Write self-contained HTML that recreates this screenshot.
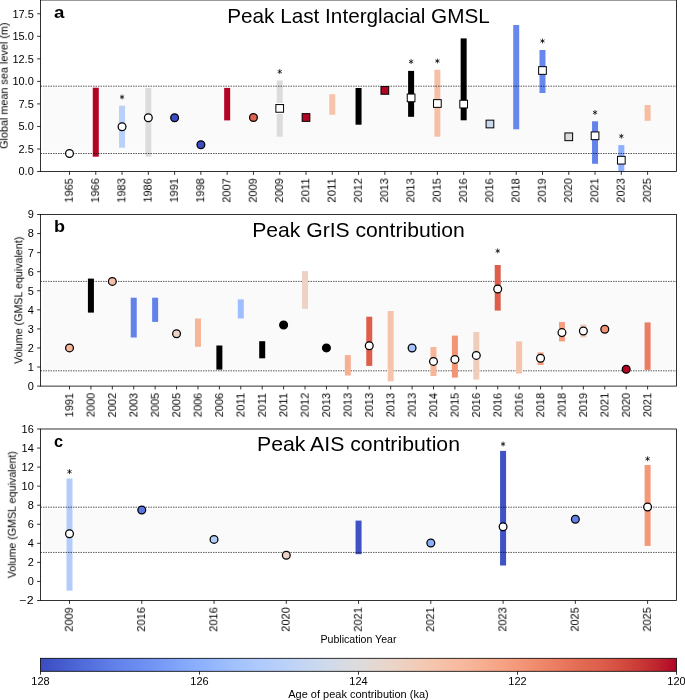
<!DOCTYPE html>
<html><head><meta charset="utf-8"><title>Peak Last Interglacial GMSL</title>
<style>html,body{margin:0;padding:0;background:#fff;}svg{display:block;font-family:"Liberation Sans",sans-serif;}text{will-change:transform;}</style>
</head><body>
<svg width="685" height="700" viewBox="0 0 685 700">
<rect width="685" height="700" fill="#fff"/>
<defs><linearGradient id="cw" x1="0" x2="1" y1="0" y2="0"><stop offset="0" stop-color="#3b4cc0"/><stop offset="0.03" stop-color="#445acc"/><stop offset="0.06" stop-color="#4e68d8"/><stop offset="0.09" stop-color="#5875e1"/><stop offset="0.12" stop-color="#6282ea"/><stop offset="0.16" stop-color="#6c8ff1"/><stop offset="0.19" stop-color="#779af7"/><stop offset="0.22" stop-color="#82a6fb"/><stop offset="0.25" stop-color="#8db0fe"/><stop offset="0.28" stop-color="#98b9ff"/><stop offset="0.31" stop-color="#a3c2fe"/><stop offset="0.34" stop-color="#aec9fc"/><stop offset="0.38" stop-color="#b9d0f9"/><stop offset="0.41" stop-color="#c3d5f4"/><stop offset="0.44" stop-color="#ccd9ed"/><stop offset="0.47" stop-color="#d5dbe5"/><stop offset="0.5" stop-color="#dddcdc"/><stop offset="0.53" stop-color="#e5d8d1"/><stop offset="0.56" stop-color="#ecd3c5"/><stop offset="0.59" stop-color="#f1ccb8"/><stop offset="0.62" stop-color="#f5c4ac"/><stop offset="0.66" stop-color="#f7ba9f"/><stop offset="0.69" stop-color="#f7b093"/><stop offset="0.72" stop-color="#f6a586"/><stop offset="0.75" stop-color="#f4987a"/><stop offset="0.78" stop-color="#f08b6e"/><stop offset="0.81" stop-color="#eb7d62"/><stop offset="0.84" stop-color="#e46e56"/><stop offset="0.88" stop-color="#dd5f4b"/><stop offset="0.91" stop-color="#d44e41"/><stop offset="0.94" stop-color="#ca3b37"/><stop offset="0.97" stop-color="#be242e"/><stop offset="1" stop-color="#b40426"/></linearGradient></defs>
<rect x="42.8" y="86.2" width="631.8" height="67.3" fill="#fafafa"/>
<line x1="40.5" x2="676.5" y1="86.2" y2="86.2" stroke="#fff" stroke-width="3.3"/>
<line x1="40.5" x2="676.5" y1="153.5" y2="153.5" stroke="#fff" stroke-width="3.3"/>
<rect x="92.78" y="87.7" width="6" height="69" fill="#b40426"/>
<rect x="119.05" y="105.7" width="6" height="42" fill="#b9d0f9"/>
<rect x="145.33" y="88" width="6" height="68.7" fill="#dddcdc"/>
<rect x="224.16" y="87.9" width="6" height="32.5" fill="#b40426"/>
<rect x="276.72" y="80.5" width="6" height="56.2" fill="#dddcdc"/>
<rect x="329.27" y="94.2" width="6" height="20.6" fill="#f5c4ac"/>
<rect x="355.55" y="88" width="6" height="36.7" fill="#000000"/>
<rect x="408.1" y="70.9" width="6" height="45.9" fill="#000000"/>
<rect x="434.38" y="69.8" width="6" height="66.9" fill="#f5c0a7"/>
<rect x="460.66" y="38.4" width="6" height="81.9" fill="#000000"/>
<rect x="513.21" y="25" width="6" height="104.3" fill="#6687ed"/>
<rect x="539.49" y="50" width="6" height="43" fill="#6687ed"/>
<rect x="592.05" y="121.3" width="6" height="42.5" fill="#6282ea"/>
<rect x="618.32" y="145.1" width="6" height="26.4" fill="#8db0fe"/>
<rect x="644.6" y="105" width="6" height="15.8" fill="#f6bda2"/>
<line x1="40.5" x2="676.5" y1="86.2" y2="86.2" stroke="#000" stroke-width="1" stroke-dasharray="1.5 1" opacity="0.66"/>
<line x1="40.5" x2="676.5" y1="153.5" y2="153.5" stroke="#000" stroke-width="1" stroke-dasharray="1.5 1" opacity="0.66"/>
<circle cx="69.5" cy="153.5" r="3.9" fill="#ffffff" stroke="#000" stroke-width="1.25"/>
<circle cx="122.05" cy="126.7" r="3.9" fill="#ffffff" stroke="#000" stroke-width="1.25"/>
<path d="M122.05 99.05L122.05 94.95M120.28 98.03L123.83 95.97M123.83 98.03L120.28 95.97" stroke="#000" stroke-width="0.75" stroke-linecap="round" fill="none"/>
<circle cx="148.33" cy="117.7" r="3.9" fill="#ffffff" stroke="#000" stroke-width="1.25"/>
<circle cx="174.61" cy="117.7" r="3.9" fill="#3b4cc0" stroke="#000" stroke-width="1.25"/>
<circle cx="200.89" cy="144.7" r="3.9" fill="#3b4cc0" stroke="#000" stroke-width="1.25"/>
<circle cx="253.44" cy="117.5" r="3.9" fill="#df634e" stroke="#000" stroke-width="1.25"/>
<rect x="275.37" y="104.05" width="8.7" height="8.7" fill="none" stroke="#fff" stroke-width="2.2"/>
<rect x="275.87" y="104.55" width="7.7" height="7.7" fill="#ffffff" stroke="#000" stroke-width="1"/>
<path d="M279.72 73.65L279.72 69.55M277.94 72.62L281.49 70.57M281.49 72.62L277.94 70.57" stroke="#000" stroke-width="0.75" stroke-linecap="round" fill="none"/>
<rect x="302.15" y="113.65" width="7.7" height="7.7" fill="#b40426" stroke="#000" stroke-width="1"/>
<rect x="380.98" y="86.55" width="7.7" height="7.7" fill="#b40426" stroke="#000" stroke-width="1"/>
<rect x="407.25" y="94.05" width="7.7" height="7.7" fill="#ffffff" stroke="#000" stroke-width="1"/>
<path d="M411.1 63.65L411.1 59.55M409.33 62.62L412.88 60.58M412.88 62.62L409.33 60.58" stroke="#000" stroke-width="0.75" stroke-linecap="round" fill="none"/>
<rect x="433.53" y="99.65" width="7.7" height="7.7" fill="#ffffff" stroke="#000" stroke-width="1"/>
<path d="M437.38 63.05L437.38 58.95M435.61 62.02L439.16 59.98M439.16 62.02L435.61 59.98" stroke="#000" stroke-width="0.75" stroke-linecap="round" fill="none"/>
<rect x="459.81" y="100.25" width="7.7" height="7.7" fill="#ffffff" stroke="#000" stroke-width="1"/>
<rect x="486.09" y="120.15" width="7.7" height="7.7" fill="#ccd9ed" stroke="#000" stroke-width="1"/>
<rect x="538.64" y="66.65" width="7.7" height="7.7" fill="#ffffff" stroke="#000" stroke-width="1"/>
<path d="M542.49 43.05L542.49 38.95M540.72 42.02L544.27 39.98M544.27 42.02L540.72 39.98" stroke="#000" stroke-width="0.75" stroke-linecap="round" fill="none"/>
<rect x="564.92" y="132.95" width="7.7" height="7.7" fill="#dddcdc" stroke="#000" stroke-width="1"/>
<rect x="591.2" y="131.95" width="7.7" height="7.7" fill="#ffffff" stroke="#000" stroke-width="1"/>
<path d="M595.05 114.55L595.05 110.45M593.27 113.53L596.82 111.47M596.82 113.53L593.27 111.47" stroke="#000" stroke-width="0.75" stroke-linecap="round" fill="none"/>
<rect x="617.47" y="156.35" width="7.7" height="7.7" fill="#ffffff" stroke="#000" stroke-width="1"/>
<path d="M621.32 138.25L621.32 134.15M619.55 137.22L623.1 135.17M623.1 137.22L619.55 135.17" stroke="#000" stroke-width="0.75" stroke-linecap="round" fill="none"/>
<rect x="40.5" y="0" width="636" height="171.5" fill="none" stroke="#000" stroke-width="0.8"/>
<line x1="37.14" x2="40.5" y1="171.5" y2="171.5" stroke="#000" stroke-width="0.8"/>
<text x="33.78" y="175.4" font-size="10.18" text-anchor="end" textLength="15.27" lengthAdjust="spacingAndGlyphs" fill="#000">0.0</text>
<line x1="37.14" x2="40.5" y1="148.97" y2="148.97" stroke="#000" stroke-width="0.8"/>
<text x="33.78" y="152.87" font-size="10.18" text-anchor="end" textLength="15.27" lengthAdjust="spacingAndGlyphs" fill="#000">2.5</text>
<line x1="37.14" x2="40.5" y1="126.44" y2="126.44" stroke="#000" stroke-width="0.8"/>
<text x="33.78" y="130.34" font-size="10.18" text-anchor="end" textLength="15.27" lengthAdjust="spacingAndGlyphs" fill="#000">5.0</text>
<line x1="37.14" x2="40.5" y1="103.91" y2="103.91" stroke="#000" stroke-width="0.8"/>
<text x="33.78" y="107.81" font-size="10.18" text-anchor="end" textLength="15.27" lengthAdjust="spacingAndGlyphs" fill="#000">7.5</text>
<line x1="37.14" x2="40.5" y1="81.38" y2="81.38" stroke="#000" stroke-width="0.8"/>
<text x="33.78" y="85.28" font-size="10.18" text-anchor="end" textLength="21.38" lengthAdjust="spacingAndGlyphs" fill="#000">10.0</text>
<line x1="37.14" x2="40.5" y1="58.85" y2="58.85" stroke="#000" stroke-width="0.8"/>
<text x="33.78" y="62.75" font-size="10.18" text-anchor="end" textLength="21.38" lengthAdjust="spacingAndGlyphs" fill="#000">12.5</text>
<line x1="37.14" x2="40.5" y1="36.32" y2="36.32" stroke="#000" stroke-width="0.8"/>
<text x="33.78" y="40.22" font-size="10.18" text-anchor="end" textLength="21.38" lengthAdjust="spacingAndGlyphs" fill="#000">15.0</text>
<line x1="37.14" x2="40.5" y1="13.79" y2="13.79" stroke="#000" stroke-width="0.8"/>
<text x="33.78" y="17.69" font-size="10.18" text-anchor="end" textLength="21.38" lengthAdjust="spacingAndGlyphs" fill="#000">17.5</text>
<line x1="69.5" x2="69.5" y1="171.5" y2="174.86" stroke="#000" stroke-width="0.8"/>
<text x="73" y="178.22" font-size="10.18" text-anchor="end" textLength="24.43" lengthAdjust="spacingAndGlyphs" transform="rotate(-90 73 178.22)" fill="#000">1965</text>
<line x1="95.78" x2="95.78" y1="171.5" y2="174.86" stroke="#000" stroke-width="0.8"/>
<text x="99.28" y="178.22" font-size="10.18" text-anchor="end" textLength="24.43" lengthAdjust="spacingAndGlyphs" transform="rotate(-90 99.28 178.22)" fill="#000">1966</text>
<line x1="122.05" x2="122.05" y1="171.5" y2="174.86" stroke="#000" stroke-width="0.8"/>
<text x="125.55" y="178.22" font-size="10.18" text-anchor="end" textLength="24.43" lengthAdjust="spacingAndGlyphs" transform="rotate(-90 125.55 178.22)" fill="#000">1983</text>
<line x1="148.33" x2="148.33" y1="171.5" y2="174.86" stroke="#000" stroke-width="0.8"/>
<text x="151.83" y="178.22" font-size="10.18" text-anchor="end" textLength="24.43" lengthAdjust="spacingAndGlyphs" transform="rotate(-90 151.83 178.22)" fill="#000">1986</text>
<line x1="174.61" x2="174.61" y1="171.5" y2="174.86" stroke="#000" stroke-width="0.8"/>
<text x="178.11" y="178.22" font-size="10.18" text-anchor="end" textLength="24.43" lengthAdjust="spacingAndGlyphs" transform="rotate(-90 178.11 178.22)" fill="#000">1991</text>
<line x1="200.89" x2="200.89" y1="171.5" y2="174.86" stroke="#000" stroke-width="0.8"/>
<text x="204.39" y="178.22" font-size="10.18" text-anchor="end" textLength="24.43" lengthAdjust="spacingAndGlyphs" transform="rotate(-90 204.39 178.22)" fill="#000">1998</text>
<line x1="227.16" x2="227.16" y1="171.5" y2="174.86" stroke="#000" stroke-width="0.8"/>
<text x="230.66" y="178.22" font-size="10.18" text-anchor="end" textLength="24.43" lengthAdjust="spacingAndGlyphs" transform="rotate(-90 230.66 178.22)" fill="#000">2007</text>
<line x1="253.44" x2="253.44" y1="171.5" y2="174.86" stroke="#000" stroke-width="0.8"/>
<text x="256.94" y="178.22" font-size="10.18" text-anchor="end" textLength="24.43" lengthAdjust="spacingAndGlyphs" transform="rotate(-90 256.94 178.22)" fill="#000">2009</text>
<line x1="279.72" x2="279.72" y1="171.5" y2="174.86" stroke="#000" stroke-width="0.8"/>
<text x="283.22" y="178.22" font-size="10.18" text-anchor="end" textLength="24.43" lengthAdjust="spacingAndGlyphs" transform="rotate(-90 283.22 178.22)" fill="#000">2009</text>
<line x1="306" x2="306" y1="171.5" y2="174.86" stroke="#000" stroke-width="0.8"/>
<text x="309.5" y="178.22" font-size="10.18" text-anchor="end" textLength="24.43" lengthAdjust="spacingAndGlyphs" transform="rotate(-90 309.5 178.22)" fill="#000">2011</text>
<line x1="332.27" x2="332.27" y1="171.5" y2="174.86" stroke="#000" stroke-width="0.8"/>
<text x="335.77" y="178.22" font-size="10.18" text-anchor="end" textLength="24.43" lengthAdjust="spacingAndGlyphs" transform="rotate(-90 335.77 178.22)" fill="#000">2011</text>
<line x1="358.55" x2="358.55" y1="171.5" y2="174.86" stroke="#000" stroke-width="0.8"/>
<text x="362.05" y="178.22" font-size="10.18" text-anchor="end" textLength="24.43" lengthAdjust="spacingAndGlyphs" transform="rotate(-90 362.05 178.22)" fill="#000">2012</text>
<line x1="384.83" x2="384.83" y1="171.5" y2="174.86" stroke="#000" stroke-width="0.8"/>
<text x="388.33" y="178.22" font-size="10.18" text-anchor="end" textLength="24.43" lengthAdjust="spacingAndGlyphs" transform="rotate(-90 388.33 178.22)" fill="#000">2013</text>
<line x1="411.1" x2="411.1" y1="171.5" y2="174.86" stroke="#000" stroke-width="0.8"/>
<text x="414.6" y="178.22" font-size="10.18" text-anchor="end" textLength="24.43" lengthAdjust="spacingAndGlyphs" transform="rotate(-90 414.6 178.22)" fill="#000">2013</text>
<line x1="437.38" x2="437.38" y1="171.5" y2="174.86" stroke="#000" stroke-width="0.8"/>
<text x="440.88" y="178.22" font-size="10.18" text-anchor="end" textLength="24.43" lengthAdjust="spacingAndGlyphs" transform="rotate(-90 440.88 178.22)" fill="#000">2015</text>
<line x1="463.66" x2="463.66" y1="171.5" y2="174.86" stroke="#000" stroke-width="0.8"/>
<text x="467.16" y="178.22" font-size="10.18" text-anchor="end" textLength="24.43" lengthAdjust="spacingAndGlyphs" transform="rotate(-90 467.16 178.22)" fill="#000">2016</text>
<line x1="489.94" x2="489.94" y1="171.5" y2="174.86" stroke="#000" stroke-width="0.8"/>
<text x="493.44" y="178.22" font-size="10.18" text-anchor="end" textLength="24.43" lengthAdjust="spacingAndGlyphs" transform="rotate(-90 493.44 178.22)" fill="#000">2016</text>
<line x1="516.21" x2="516.21" y1="171.5" y2="174.86" stroke="#000" stroke-width="0.8"/>
<text x="519.71" y="178.22" font-size="10.18" text-anchor="end" textLength="24.43" lengthAdjust="spacingAndGlyphs" transform="rotate(-90 519.71 178.22)" fill="#000">2018</text>
<line x1="542.49" x2="542.49" y1="171.5" y2="174.86" stroke="#000" stroke-width="0.8"/>
<text x="545.99" y="178.22" font-size="10.18" text-anchor="end" textLength="24.43" lengthAdjust="spacingAndGlyphs" transform="rotate(-90 545.99 178.22)" fill="#000">2019</text>
<line x1="568.77" x2="568.77" y1="171.5" y2="174.86" stroke="#000" stroke-width="0.8"/>
<text x="572.27" y="178.22" font-size="10.18" text-anchor="end" textLength="24.43" lengthAdjust="spacingAndGlyphs" transform="rotate(-90 572.27 178.22)" fill="#000">2020</text>
<line x1="595.05" x2="595.05" y1="171.5" y2="174.86" stroke="#000" stroke-width="0.8"/>
<text x="598.55" y="178.22" font-size="10.18" text-anchor="end" textLength="24.43" lengthAdjust="spacingAndGlyphs" transform="rotate(-90 598.55 178.22)" fill="#000">2021</text>
<line x1="621.32" x2="621.32" y1="171.5" y2="174.86" stroke="#000" stroke-width="0.8"/>
<text x="624.82" y="178.22" font-size="10.18" text-anchor="end" textLength="24.43" lengthAdjust="spacingAndGlyphs" transform="rotate(-90 624.82 178.22)" fill="#000">2023</text>
<line x1="647.6" x2="647.6" y1="171.5" y2="174.86" stroke="#000" stroke-width="0.8"/>
<text x="651.1" y="178.22" font-size="10.18" text-anchor="end" textLength="24.43" lengthAdjust="spacingAndGlyphs" transform="rotate(-90 651.1 178.22)" fill="#000">2025</text>
<text x="358.5" y="22.6" font-size="20.14" text-anchor="middle" textLength="262.47" lengthAdjust="spacingAndGlyphs" fill="#000">Peak Last Interglacial GMSL</text>
<text x="54" y="17.6" font-size="16.28" text-anchor="start" textLength="10.37" lengthAdjust="spacingAndGlyphs" font-weight="bold" fill="#000">a</text>
<text x="7.4" y="85.75" font-size="10.18" text-anchor="middle" textLength="126.52" lengthAdjust="spacingAndGlyphs" transform="rotate(-90 7.4 85.75)" fill="#000">Global mean sea level (m)</text>
<rect x="42.8" y="281.4" width="631.8" height="89.4" fill="#fafafa"/>
<line x1="40.5" x2="676.5" y1="281.4" y2="281.4" stroke="#fff" stroke-width="3.3"/>
<line x1="40.5" x2="676.5" y1="370.8" y2="370.8" stroke="#fff" stroke-width="3.3"/>
<line x1="40.5" x2="676.5" y1="281.4" y2="281.4" stroke="#000" stroke-width="1" stroke-dasharray="1.5 1" opacity="0.66"/>
<line x1="40.5" x2="676.5" y1="370.8" y2="370.8" stroke="#000" stroke-width="1" stroke-dasharray="1.5 1" opacity="0.66"/>
<rect x="87.91" y="278.6" width="6" height="34" fill="#000000"/>
<rect x="130.73" y="297.7" width="6" height="39.8" fill="#6282ea"/>
<rect x="152.14" y="297.7" width="6" height="24.2" fill="#6282ea"/>
<rect x="194.97" y="318.5" width="6" height="28.3" fill="#f7b599"/>
<rect x="216.38" y="345.5" width="6" height="24.1" fill="#000000"/>
<rect x="237.79" y="299.4" width="6" height="19.1" fill="#9ebeff"/>
<rect x="259.2" y="341.2" width="6" height="17.1" fill="#000000"/>
<rect x="302.02" y="271.1" width="6" height="37.8" fill="#ecd3c5"/>
<rect x="344.84" y="355.1" width="6" height="20.4" fill="#f7b093"/>
<rect x="366.26" y="316.7" width="6" height="49.2" fill="#dd5f4b"/>
<rect x="387.67" y="311" width="6" height="70.4" fill="#f5c4ac"/>
<rect x="430.49" y="347" width="6" height="29" fill="#f7b599"/>
<rect x="451.9" y="335.6" width="6" height="42" fill="#f39475"/>
<rect x="473.31" y="332" width="6" height="47.6" fill="#f0cdbb"/>
<rect x="494.72" y="265" width="6" height="45.6" fill="#dd5f4b"/>
<rect x="516.13" y="341.4" width="6" height="32.2" fill="#f5c4ac"/>
<rect x="537.54" y="352.4" width="6" height="12.6" fill="#f59f80"/>
<rect x="558.96" y="322" width="6" height="19.4" fill="#f59f80"/>
<rect x="580.37" y="324.4" width="6" height="13" fill="#f0cdbb"/>
<rect x="644.6" y="322.4" width="6" height="47.5" fill="#eb7d62"/>
<circle cx="69.5" cy="347.9" r="3.9" fill="#f7b599" stroke="#000" stroke-width="1.25"/>
<circle cx="112.32" cy="281.4" r="3.9" fill="#f5c0a7" stroke="#000" stroke-width="1.25"/>
<circle cx="176.56" cy="333.8" r="3.9" fill="#ecd3c5" stroke="#000" stroke-width="1.25"/>
<circle cx="283.61" cy="325" r="3.9" fill="#000000" stroke="#000" stroke-width="1.25"/>
<circle cx="326.43" cy="347.9" r="3.9" fill="#000000" stroke="#000" stroke-width="1.25"/>
<circle cx="369.26" cy="345.8" r="3.9" fill="#ffffff" stroke="#000" stroke-width="1.25"/>
<circle cx="412.08" cy="348" r="3.9" fill="#a3c2fe" stroke="#000" stroke-width="1.25"/>
<circle cx="433.49" cy="361.4" r="3.9" fill="#ffffff" stroke="#000" stroke-width="1.25"/>
<circle cx="454.9" cy="359.4" r="3.9" fill="#ffffff" stroke="#000" stroke-width="1.25"/>
<circle cx="476.31" cy="355.4" r="3.9" fill="#ffffff" stroke="#000" stroke-width="1.25"/>
<circle cx="497.72" cy="289" r="3.9" fill="#ffffff" stroke="#000" stroke-width="1.25"/>
<path d="M497.72 252.95L497.72 248.85M495.95 251.93L499.5 249.88M499.5 251.93L495.95 249.88" stroke="#000" stroke-width="0.75" stroke-linecap="round" fill="none"/>
<circle cx="540.54" cy="358.2" r="3.9" fill="#ffffff" stroke="#000" stroke-width="1.25"/>
<circle cx="561.96" cy="332.6" r="3.9" fill="#ffffff" stroke="#000" stroke-width="1.25"/>
<circle cx="583.37" cy="331" r="3.9" fill="#ffffff" stroke="#000" stroke-width="1.25"/>
<circle cx="604.78" cy="329.2" r="3.9" fill="#f39475" stroke="#000" stroke-width="1.25"/>
<circle cx="626.19" cy="369.3" r="3.9" fill="#b40426" stroke="#000" stroke-width="1.25"/>
<rect x="40.5" y="214.5" width="636" height="171.6" fill="none" stroke="#000" stroke-width="0.8"/>
<line x1="37.14" x2="40.5" y1="386.1" y2="386.1" stroke="#000" stroke-width="0.8"/>
<text x="33.78" y="390" font-size="10.18" text-anchor="end" textLength="6.11" lengthAdjust="spacingAndGlyphs" fill="#000">0</text>
<line x1="37.14" x2="40.5" y1="367.03" y2="367.03" stroke="#000" stroke-width="0.8"/>
<text x="33.78" y="370.93" font-size="10.18" text-anchor="end" textLength="6.11" lengthAdjust="spacingAndGlyphs" fill="#000">1</text>
<line x1="37.14" x2="40.5" y1="347.97" y2="347.97" stroke="#000" stroke-width="0.8"/>
<text x="33.78" y="351.87" font-size="10.18" text-anchor="end" textLength="6.11" lengthAdjust="spacingAndGlyphs" fill="#000">2</text>
<line x1="37.14" x2="40.5" y1="328.9" y2="328.9" stroke="#000" stroke-width="0.8"/>
<text x="33.78" y="332.8" font-size="10.18" text-anchor="end" textLength="6.11" lengthAdjust="spacingAndGlyphs" fill="#000">3</text>
<line x1="37.14" x2="40.5" y1="309.83" y2="309.83" stroke="#000" stroke-width="0.8"/>
<text x="33.78" y="313.73" font-size="10.18" text-anchor="end" textLength="6.11" lengthAdjust="spacingAndGlyphs" fill="#000">4</text>
<line x1="37.14" x2="40.5" y1="290.77" y2="290.77" stroke="#000" stroke-width="0.8"/>
<text x="33.78" y="294.67" font-size="10.18" text-anchor="end" textLength="6.11" lengthAdjust="spacingAndGlyphs" fill="#000">5</text>
<line x1="37.14" x2="40.5" y1="271.7" y2="271.7" stroke="#000" stroke-width="0.8"/>
<text x="33.78" y="275.6" font-size="10.18" text-anchor="end" textLength="6.11" lengthAdjust="spacingAndGlyphs" fill="#000">6</text>
<line x1="37.14" x2="40.5" y1="252.63" y2="252.63" stroke="#000" stroke-width="0.8"/>
<text x="33.78" y="256.53" font-size="10.18" text-anchor="end" textLength="6.11" lengthAdjust="spacingAndGlyphs" fill="#000">7</text>
<line x1="37.14" x2="40.5" y1="233.57" y2="233.57" stroke="#000" stroke-width="0.8"/>
<text x="33.78" y="237.47" font-size="10.18" text-anchor="end" textLength="6.11" lengthAdjust="spacingAndGlyphs" fill="#000">8</text>
<line x1="37.14" x2="40.5" y1="214.5" y2="214.5" stroke="#000" stroke-width="0.8"/>
<text x="33.78" y="218.4" font-size="10.18" text-anchor="end" textLength="6.11" lengthAdjust="spacingAndGlyphs" fill="#000">9</text>
<line x1="69.5" x2="69.5" y1="386.1" y2="389.46" stroke="#000" stroke-width="0.8"/>
<text x="73" y="392.82" font-size="10.18" text-anchor="end" textLength="24.43" lengthAdjust="spacingAndGlyphs" transform="rotate(-90 73 392.82)" fill="#000">1991</text>
<line x1="90.91" x2="90.91" y1="386.1" y2="389.46" stroke="#000" stroke-width="0.8"/>
<text x="94.41" y="392.82" font-size="10.18" text-anchor="end" textLength="24.43" lengthAdjust="spacingAndGlyphs" transform="rotate(-90 94.41 392.82)" fill="#000">2000</text>
<line x1="112.32" x2="112.32" y1="386.1" y2="389.46" stroke="#000" stroke-width="0.8"/>
<text x="115.82" y="392.82" font-size="10.18" text-anchor="end" textLength="24.43" lengthAdjust="spacingAndGlyphs" transform="rotate(-90 115.82 392.82)" fill="#000">2002</text>
<line x1="133.73" x2="133.73" y1="386.1" y2="389.46" stroke="#000" stroke-width="0.8"/>
<text x="137.23" y="392.82" font-size="10.18" text-anchor="end" textLength="24.43" lengthAdjust="spacingAndGlyphs" transform="rotate(-90 137.23 392.82)" fill="#000">2003</text>
<line x1="155.14" x2="155.14" y1="386.1" y2="389.46" stroke="#000" stroke-width="0.8"/>
<text x="158.64" y="392.82" font-size="10.18" text-anchor="end" textLength="24.43" lengthAdjust="spacingAndGlyphs" transform="rotate(-90 158.64 392.82)" fill="#000">2005</text>
<line x1="176.56" x2="176.56" y1="386.1" y2="389.46" stroke="#000" stroke-width="0.8"/>
<text x="180.06" y="392.82" font-size="10.18" text-anchor="end" textLength="24.43" lengthAdjust="spacingAndGlyphs" transform="rotate(-90 180.06 392.82)" fill="#000">2005</text>
<line x1="197.97" x2="197.97" y1="386.1" y2="389.46" stroke="#000" stroke-width="0.8"/>
<text x="201.47" y="392.82" font-size="10.18" text-anchor="end" textLength="24.43" lengthAdjust="spacingAndGlyphs" transform="rotate(-90 201.47 392.82)" fill="#000">2006</text>
<line x1="219.38" x2="219.38" y1="386.1" y2="389.46" stroke="#000" stroke-width="0.8"/>
<text x="222.88" y="392.82" font-size="10.18" text-anchor="end" textLength="24.43" lengthAdjust="spacingAndGlyphs" transform="rotate(-90 222.88 392.82)" fill="#000">2006</text>
<line x1="240.79" x2="240.79" y1="386.1" y2="389.46" stroke="#000" stroke-width="0.8"/>
<text x="244.29" y="392.82" font-size="10.18" text-anchor="end" textLength="24.43" lengthAdjust="spacingAndGlyphs" transform="rotate(-90 244.29 392.82)" fill="#000">2011</text>
<line x1="262.2" x2="262.2" y1="386.1" y2="389.46" stroke="#000" stroke-width="0.8"/>
<text x="265.7" y="392.82" font-size="10.18" text-anchor="end" textLength="24.43" lengthAdjust="spacingAndGlyphs" transform="rotate(-90 265.7 392.82)" fill="#000">2011</text>
<line x1="283.61" x2="283.61" y1="386.1" y2="389.46" stroke="#000" stroke-width="0.8"/>
<text x="287.11" y="392.82" font-size="10.18" text-anchor="end" textLength="24.43" lengthAdjust="spacingAndGlyphs" transform="rotate(-90 287.11 392.82)" fill="#000">2011</text>
<line x1="305.02" x2="305.02" y1="386.1" y2="389.46" stroke="#000" stroke-width="0.8"/>
<text x="308.52" y="392.82" font-size="10.18" text-anchor="end" textLength="24.43" lengthAdjust="spacingAndGlyphs" transform="rotate(-90 308.52 392.82)" fill="#000">2012</text>
<line x1="326.43" x2="326.43" y1="386.1" y2="389.46" stroke="#000" stroke-width="0.8"/>
<text x="329.93" y="392.82" font-size="10.18" text-anchor="end" textLength="24.43" lengthAdjust="spacingAndGlyphs" transform="rotate(-90 329.93 392.82)" fill="#000">2013</text>
<line x1="347.84" x2="347.84" y1="386.1" y2="389.46" stroke="#000" stroke-width="0.8"/>
<text x="351.34" y="392.82" font-size="10.18" text-anchor="end" textLength="24.43" lengthAdjust="spacingAndGlyphs" transform="rotate(-90 351.34 392.82)" fill="#000">2013</text>
<line x1="369.26" x2="369.26" y1="386.1" y2="389.46" stroke="#000" stroke-width="0.8"/>
<text x="372.76" y="392.82" font-size="10.18" text-anchor="end" textLength="24.43" lengthAdjust="spacingAndGlyphs" transform="rotate(-90 372.76 392.82)" fill="#000">2013</text>
<line x1="390.67" x2="390.67" y1="386.1" y2="389.46" stroke="#000" stroke-width="0.8"/>
<text x="394.17" y="392.82" font-size="10.18" text-anchor="end" textLength="24.43" lengthAdjust="spacingAndGlyphs" transform="rotate(-90 394.17 392.82)" fill="#000">2013</text>
<line x1="412.08" x2="412.08" y1="386.1" y2="389.46" stroke="#000" stroke-width="0.8"/>
<text x="415.58" y="392.82" font-size="10.18" text-anchor="end" textLength="24.43" lengthAdjust="spacingAndGlyphs" transform="rotate(-90 415.58 392.82)" fill="#000">2013</text>
<line x1="433.49" x2="433.49" y1="386.1" y2="389.46" stroke="#000" stroke-width="0.8"/>
<text x="436.99" y="392.82" font-size="10.18" text-anchor="end" textLength="24.43" lengthAdjust="spacingAndGlyphs" transform="rotate(-90 436.99 392.82)" fill="#000">2014</text>
<line x1="454.9" x2="454.9" y1="386.1" y2="389.46" stroke="#000" stroke-width="0.8"/>
<text x="458.4" y="392.82" font-size="10.18" text-anchor="end" textLength="24.43" lengthAdjust="spacingAndGlyphs" transform="rotate(-90 458.4 392.82)" fill="#000">2015</text>
<line x1="476.31" x2="476.31" y1="386.1" y2="389.46" stroke="#000" stroke-width="0.8"/>
<text x="479.81" y="392.82" font-size="10.18" text-anchor="end" textLength="24.43" lengthAdjust="spacingAndGlyphs" transform="rotate(-90 479.81 392.82)" fill="#000">2016</text>
<line x1="497.72" x2="497.72" y1="386.1" y2="389.46" stroke="#000" stroke-width="0.8"/>
<text x="501.22" y="392.82" font-size="10.18" text-anchor="end" textLength="24.43" lengthAdjust="spacingAndGlyphs" transform="rotate(-90 501.22 392.82)" fill="#000">2016</text>
<line x1="519.13" x2="519.13" y1="386.1" y2="389.46" stroke="#000" stroke-width="0.8"/>
<text x="522.63" y="392.82" font-size="10.18" text-anchor="end" textLength="24.43" lengthAdjust="spacingAndGlyphs" transform="rotate(-90 522.63 392.82)" fill="#000">2016</text>
<line x1="540.54" x2="540.54" y1="386.1" y2="389.46" stroke="#000" stroke-width="0.8"/>
<text x="544.04" y="392.82" font-size="10.18" text-anchor="end" textLength="24.43" lengthAdjust="spacingAndGlyphs" transform="rotate(-90 544.04 392.82)" fill="#000">2018</text>
<line x1="561.96" x2="561.96" y1="386.1" y2="389.46" stroke="#000" stroke-width="0.8"/>
<text x="565.46" y="392.82" font-size="10.18" text-anchor="end" textLength="24.43" lengthAdjust="spacingAndGlyphs" transform="rotate(-90 565.46 392.82)" fill="#000">2018</text>
<line x1="583.37" x2="583.37" y1="386.1" y2="389.46" stroke="#000" stroke-width="0.8"/>
<text x="586.87" y="392.82" font-size="10.18" text-anchor="end" textLength="24.43" lengthAdjust="spacingAndGlyphs" transform="rotate(-90 586.87 392.82)" fill="#000">2019</text>
<line x1="604.78" x2="604.78" y1="386.1" y2="389.46" stroke="#000" stroke-width="0.8"/>
<text x="608.28" y="392.82" font-size="10.18" text-anchor="end" textLength="24.43" lengthAdjust="spacingAndGlyphs" transform="rotate(-90 608.28 392.82)" fill="#000">2021</text>
<line x1="626.19" x2="626.19" y1="386.1" y2="389.46" stroke="#000" stroke-width="0.8"/>
<text x="629.69" y="392.82" font-size="10.18" text-anchor="end" textLength="24.43" lengthAdjust="spacingAndGlyphs" transform="rotate(-90 629.69 392.82)" fill="#000">2020</text>
<line x1="647.6" x2="647.6" y1="386.1" y2="389.46" stroke="#000" stroke-width="0.8"/>
<text x="651.1" y="392.82" font-size="10.18" text-anchor="end" textLength="24.43" lengthAdjust="spacingAndGlyphs" transform="rotate(-90 651.1 392.82)" fill="#000">2021</text>
<text x="358.5" y="236.7" font-size="20.14" text-anchor="middle" textLength="212.55" lengthAdjust="spacingAndGlyphs" fill="#000">Peak GrIS contribution</text>
<text x="54" y="232.1" font-size="16.28" text-anchor="start" textLength="11" lengthAdjust="spacingAndGlyphs" font-weight="bold" fill="#000">b</text>
<text x="22.6" y="300.3" font-size="10.18" text-anchor="middle" textLength="127.2" lengthAdjust="spacingAndGlyphs" transform="rotate(-90 22.6 300.3)" fill="#000">Volume (GMSL equivalent)</text>
<rect x="42.8" y="507.2" width="631.8" height="45.2" fill="#fafafa"/>
<line x1="40.5" x2="676.5" y1="507.2" y2="507.2" stroke="#fff" stroke-width="3.3"/>
<line x1="40.5" x2="676.5" y1="552.4" y2="552.4" stroke="#fff" stroke-width="3.3"/>
<rect x="66.5" y="478.5" width="6" height="112.2" fill="#b3cdfb"/>
<rect x="355.55" y="520.6" width="6" height="33.6" fill="#3e51c5"/>
<rect x="500.08" y="450.9" width="6" height="114.6" fill="#3e51c5"/>
<rect x="644.6" y="465" width="6" height="80.9" fill="#f4987a"/>
<line x1="40.5" x2="676.5" y1="507.2" y2="507.2" stroke="#000" stroke-width="1" stroke-dasharray="1.5 1" opacity="0.66"/>
<line x1="40.5" x2="676.5" y1="552.4" y2="552.4" stroke="#000" stroke-width="1" stroke-dasharray="1.5 1" opacity="0.66"/>
<circle cx="69.5" cy="533.8" r="3.9" fill="#ffffff" stroke="#000" stroke-width="1.25"/>
<path d="M69.5 473.65L69.5 469.55M67.72 472.62L71.28 470.58M71.28 472.62L67.72 470.58" stroke="#000" stroke-width="0.75" stroke-linecap="round" fill="none"/>
<circle cx="141.76" cy="510" r="3.9" fill="#5977e3" stroke="#000" stroke-width="1.25"/>
<circle cx="214.03" cy="539.4" r="3.9" fill="#b3cdfb" stroke="#000" stroke-width="1.25"/>
<circle cx="286.29" cy="555.2" r="3.9" fill="#ecd3c5" stroke="#000" stroke-width="1.25"/>
<circle cx="430.81" cy="543" r="3.9" fill="#8db0fe" stroke="#000" stroke-width="1.25"/>
<circle cx="503.08" cy="526.8" r="3.9" fill="#ffffff" stroke="#000" stroke-width="1.25"/>
<path d="M503.08 446.05L503.08 441.95M501.3 445.02L504.85 442.98M504.85 445.02L501.3 442.98" stroke="#000" stroke-width="0.75" stroke-linecap="round" fill="none"/>
<circle cx="575.34" cy="519.2" r="3.9" fill="#6282ea" stroke="#000" stroke-width="1.25"/>
<circle cx="647.6" cy="507" r="3.9" fill="#ffffff" stroke="#000" stroke-width="1.25"/>
<path d="M647.6 460.85L647.6 456.75M645.82 459.82L649.38 457.78M649.38 459.82L645.82 457.78" stroke="#000" stroke-width="0.75" stroke-linecap="round" fill="none"/>
<rect x="40.5" y="429" width="636" height="171.5" fill="none" stroke="#000" stroke-width="0.8"/>
<line x1="37.14" x2="40.5" y1="600.5" y2="600.5" stroke="#000" stroke-width="0.8"/>
<text x="33.78" y="604.4" font-size="10.18" text-anchor="end" textLength="14.15" lengthAdjust="spacingAndGlyphs" fill="#000">−2</text>
<line x1="37.14" x2="40.5" y1="581.44" y2="581.44" stroke="#000" stroke-width="0.8"/>
<text x="33.78" y="585.34" font-size="10.18" text-anchor="end" textLength="6.11" lengthAdjust="spacingAndGlyphs" fill="#000">0</text>
<line x1="37.14" x2="40.5" y1="562.39" y2="562.39" stroke="#000" stroke-width="0.8"/>
<text x="33.78" y="566.29" font-size="10.18" text-anchor="end" textLength="6.11" lengthAdjust="spacingAndGlyphs" fill="#000">2</text>
<line x1="37.14" x2="40.5" y1="543.33" y2="543.33" stroke="#000" stroke-width="0.8"/>
<text x="33.78" y="547.23" font-size="10.18" text-anchor="end" textLength="6.11" lengthAdjust="spacingAndGlyphs" fill="#000">4</text>
<line x1="37.14" x2="40.5" y1="524.28" y2="524.28" stroke="#000" stroke-width="0.8"/>
<text x="33.78" y="528.18" font-size="10.18" text-anchor="end" textLength="6.11" lengthAdjust="spacingAndGlyphs" fill="#000">6</text>
<line x1="37.14" x2="40.5" y1="505.22" y2="505.22" stroke="#000" stroke-width="0.8"/>
<text x="33.78" y="509.12" font-size="10.18" text-anchor="end" textLength="6.11" lengthAdjust="spacingAndGlyphs" fill="#000">8</text>
<line x1="37.14" x2="40.5" y1="486.17" y2="486.17" stroke="#000" stroke-width="0.8"/>
<text x="33.78" y="490.07" font-size="10.18" text-anchor="end" textLength="12.22" lengthAdjust="spacingAndGlyphs" fill="#000">10</text>
<line x1="37.14" x2="40.5" y1="467.11" y2="467.11" stroke="#000" stroke-width="0.8"/>
<text x="33.78" y="471.01" font-size="10.18" text-anchor="end" textLength="12.22" lengthAdjust="spacingAndGlyphs" fill="#000">12</text>
<line x1="37.14" x2="40.5" y1="448.06" y2="448.06" stroke="#000" stroke-width="0.8"/>
<text x="33.78" y="451.96" font-size="10.18" text-anchor="end" textLength="12.22" lengthAdjust="spacingAndGlyphs" fill="#000">14</text>
<line x1="37.14" x2="40.5" y1="429" y2="429" stroke="#000" stroke-width="0.8"/>
<text x="33.78" y="432.9" font-size="10.18" text-anchor="end" textLength="12.22" lengthAdjust="spacingAndGlyphs" fill="#000">16</text>
<line x1="69.5" x2="69.5" y1="600.5" y2="603.86" stroke="#000" stroke-width="0.8"/>
<text x="73" y="607.22" font-size="10.18" text-anchor="end" textLength="24.43" lengthAdjust="spacingAndGlyphs" transform="rotate(-90 73 607.22)" fill="#000">2009</text>
<line x1="141.76" x2="141.76" y1="600.5" y2="603.86" stroke="#000" stroke-width="0.8"/>
<text x="145.26" y="607.22" font-size="10.18" text-anchor="end" textLength="24.43" lengthAdjust="spacingAndGlyphs" transform="rotate(-90 145.26 607.22)" fill="#000">2016</text>
<line x1="214.03" x2="214.03" y1="600.5" y2="603.86" stroke="#000" stroke-width="0.8"/>
<text x="217.53" y="607.22" font-size="10.18" text-anchor="end" textLength="24.43" lengthAdjust="spacingAndGlyphs" transform="rotate(-90 217.53 607.22)" fill="#000">2016</text>
<line x1="286.29" x2="286.29" y1="600.5" y2="603.86" stroke="#000" stroke-width="0.8"/>
<text x="289.79" y="607.22" font-size="10.18" text-anchor="end" textLength="24.43" lengthAdjust="spacingAndGlyphs" transform="rotate(-90 289.79 607.22)" fill="#000">2020</text>
<line x1="358.55" x2="358.55" y1="600.5" y2="603.86" stroke="#000" stroke-width="0.8"/>
<text x="362.05" y="607.22" font-size="10.18" text-anchor="end" textLength="24.43" lengthAdjust="spacingAndGlyphs" transform="rotate(-90 362.05 607.22)" fill="#000">2021</text>
<line x1="430.81" x2="430.81" y1="600.5" y2="603.86" stroke="#000" stroke-width="0.8"/>
<text x="434.31" y="607.22" font-size="10.18" text-anchor="end" textLength="24.43" lengthAdjust="spacingAndGlyphs" transform="rotate(-90 434.31 607.22)" fill="#000">2021</text>
<line x1="503.08" x2="503.08" y1="600.5" y2="603.86" stroke="#000" stroke-width="0.8"/>
<text x="506.58" y="607.22" font-size="10.18" text-anchor="end" textLength="24.43" lengthAdjust="spacingAndGlyphs" transform="rotate(-90 506.58 607.22)" fill="#000">2023</text>
<line x1="575.34" x2="575.34" y1="600.5" y2="603.86" stroke="#000" stroke-width="0.8"/>
<text x="578.84" y="607.22" font-size="10.18" text-anchor="end" textLength="24.43" lengthAdjust="spacingAndGlyphs" transform="rotate(-90 578.84 607.22)" fill="#000">2025</text>
<line x1="647.6" x2="647.6" y1="600.5" y2="603.86" stroke="#000" stroke-width="0.8"/>
<text x="651.1" y="607.22" font-size="10.18" text-anchor="end" textLength="24.43" lengthAdjust="spacingAndGlyphs" transform="rotate(-90 651.1 607.22)" fill="#000">2025</text>
<text x="358.5" y="451.1" font-size="20.14" text-anchor="middle" textLength="203.01" lengthAdjust="spacingAndGlyphs" fill="#000">Peak AIS contribution</text>
<text x="54" y="446.6" font-size="16.28" text-anchor="start" textLength="9.11" lengthAdjust="spacingAndGlyphs" font-weight="bold" fill="#000">c</text>
<text x="15.5" y="514.75" font-size="10.18" text-anchor="middle" textLength="127.2" lengthAdjust="spacingAndGlyphs" transform="rotate(-90 15.5 514.75)" fill="#000">Volume (GMSL equivalent)</text>
<text x="358.5" y="642.5" font-size="10.18" text-anchor="middle" textLength="76.06" lengthAdjust="spacingAndGlyphs" fill="#000">Publication Year</text>
<rect x="40.5" y="658.3" width="636" height="13" fill="url(#cw)" stroke="#000" stroke-width="0.8"/>
<line x1="40.5" x2="40.5" y1="671.3" y2="674.66" stroke="#000" stroke-width="0.8"/>
<text x="40.5" y="685" font-size="10.18" text-anchor="middle" textLength="18.32" lengthAdjust="spacingAndGlyphs" fill="#000">128</text>
<line x1="199.5" x2="199.5" y1="671.3" y2="674.66" stroke="#000" stroke-width="0.8"/>
<text x="199.5" y="685" font-size="10.18" text-anchor="middle" textLength="18.32" lengthAdjust="spacingAndGlyphs" fill="#000">126</text>
<line x1="358.5" x2="358.5" y1="671.3" y2="674.66" stroke="#000" stroke-width="0.8"/>
<text x="358.5" y="685" font-size="10.18" text-anchor="middle" textLength="18.32" lengthAdjust="spacingAndGlyphs" fill="#000">124</text>
<line x1="517.5" x2="517.5" y1="671.3" y2="674.66" stroke="#000" stroke-width="0.8"/>
<text x="517.5" y="685" font-size="10.18" text-anchor="middle" textLength="18.32" lengthAdjust="spacingAndGlyphs" fill="#000">122</text>
<line x1="676.5" x2="676.5" y1="671.3" y2="674.66" stroke="#000" stroke-width="0.8"/>
<text x="676.5" y="685" font-size="10.18" text-anchor="middle" textLength="18.32" lengthAdjust="spacingAndGlyphs" fill="#000">120</text>
<text x="358.5" y="697.7" font-size="10.18" text-anchor="middle" textLength="140.41" lengthAdjust="spacingAndGlyphs" fill="#000">Age of peak contribution (ka)</text>
</svg>
</body></html>
